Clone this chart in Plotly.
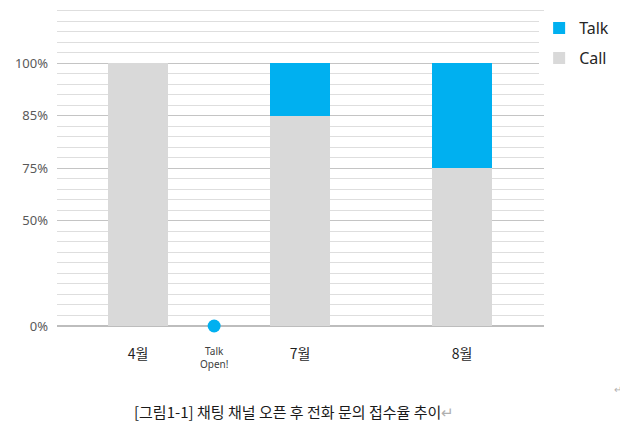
import numpy as np
import plotly.graph_objects as go

# ---- data ----
months = ["4월", "7월", "8월"]
call_pct = [100, 85, 75]
talk_pct = [0, 15, 25]
tick_pct = [0, 50, 75, 85, 100]
tick_labels = ["0%", "50%", "75%", "85%", "100%"]
event_label = "Talk<br>Open!"
caption = "[그림1-1] 채팅 채널 오픈 후 전화 문의 접수율 추이"

# piecewise axis scale of the original chart (0-50 spans two bands, then one band per tick)
scale_pos = [0, 2, 3, 4, 5]


def f(v):
    return np.interp(v, tick_pct, scale_pos)


x_idx = np.arange(len(months))
call_top = f(np.array(call_pct))
total_top = f(np.array(call_pct) + np.array(talk_pct))

BLUE = "#00B0F0"
GRAY = "#D9D9D9"

fig = go.Figure()
fig.add_trace(go.Bar(
    x=x_idx, y=total_top - call_top, base=call_top, name="Talk", legendgroup="talk",
    marker=dict(color=BLUE, line=dict(width=0)), width=0.37,
))
fig.add_trace(go.Bar(
    x=x_idx, y=call_top, base=0, name="Call", legendgroup="call",
    marker=dict(color=GRAY, line=dict(width=0)), width=0.37,
))
# "Talk Open!" event marker between April and July
event_x = 0.47
fig.add_trace(go.Scatter(
    x=[event_x], y=[0], mode="markers", showlegend=False, cliponaxis=False,
    marker=dict(color=BLUE, size=13, line=dict(width=0)),
))

fig.add_annotation(x=event_x, y=0, xref="x", yref="y", yanchor="top", yshift=-16,
                   text=event_label, showarrow=False,
                   font=dict(family="Noto Sans", size=10, color="#404040"))
fig.add_annotation(x=0.155, y=-0.27, xref="paper", yref="paper", xanchor="left", yanchor="middle",
                   text=caption + '<span style="color:#b0b0b0">↵</span>', showarrow=False,
                   font=dict(family="Noto Sans CJK KR", size=15, color="#1a1a1a"))
fig.add_annotation(x=1.165, y=-0.195, xref="paper", yref="paper", xanchor="right", yanchor="middle",
                   text="↵", showarrow=False,
                   font=dict(family="Noto Sans CJK KR", size=10, color="#b0b0b0"))

# the page body adds an 8px offset, so the figure is sized to fit the window
fig.update_layout(
    width=620, height=417,
    margin=dict(l=49, r=84, t=0, b=99, autoexpand=False),
    paper_bgcolor="white", plot_bgcolor="white",
    barmode="overlay",
    bargap=0,
    showlegend=True,
    legend=dict(x=0.99, y=0.99, xanchor="left", yanchor="top",
                font=dict(family="Noto Sans", size=16, color="#262626"),
                traceorder="grouped", itemwidth=30, tracegroupgap=6),
    xaxis=dict(range=[-0.5, 2.506], tickmode="array", tickvals=list(x_idx), ticktext=months,
               showgrid=False, zeroline=False, showline=False, ticks="",
               ticklabelstandoff=18,
               tickfont=dict(family="Noto Sans CJK KR", size=14, color="#1f1f1f")),
    yaxis=dict(range=[0, 6.05], tickmode="array", tickvals=list(f(np.array(tick_pct))),
               ticktext=tick_labels, showgrid=True, gridcolor="#c4c4c4", gridwidth=1,
               zeroline=True, zerolinecolor="#bdbdbd", zerolinewidth=1.5,
               showline=False, ticks="", ticklabelstandoff=8,
               tickfont=dict(family="Noto Sans", size=13, color="#595959"),
               minor=dict(tickmode="linear", tick0=0, dtick=0.2, showgrid=True,
                          gridcolor="#dedede", gridwidth=1)),
)

fig.write_html("out.html")
